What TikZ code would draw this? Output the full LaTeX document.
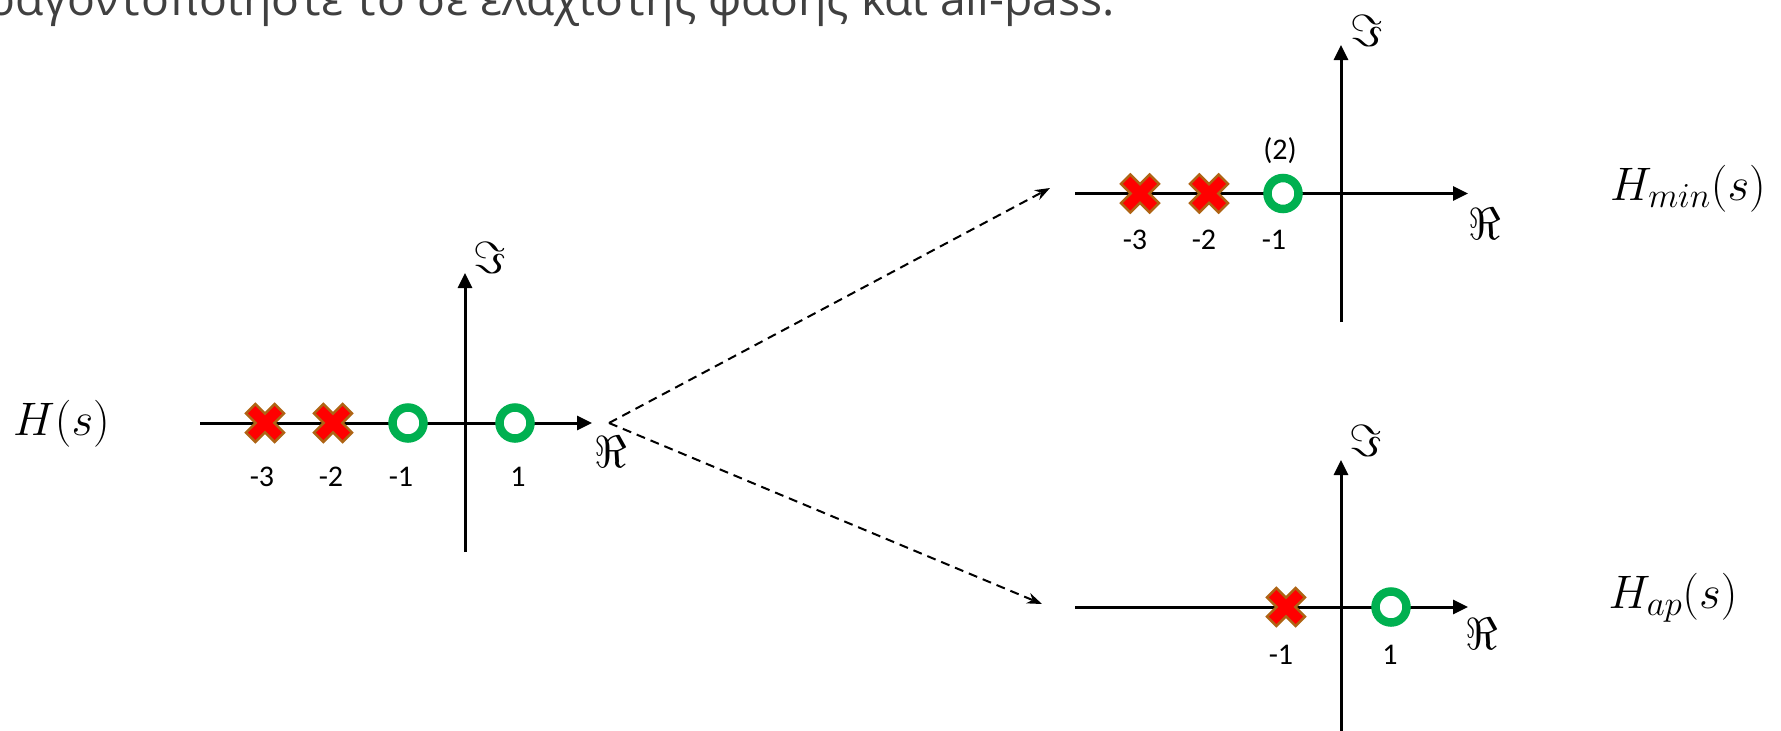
\RequirePackage{fix-cm}
\documentclass[tikz,border=0pt]{standalone}
\usepackage{graphicx}
\usepackage{fontspec}
\setmainfont{Carlito}
\newfontfamily\headfont{Open Sans}
\DeclareMathSizes{47}{47}{35}{28}
\usetikzlibrary{arrows.meta}
\definecolor{zerogreen}{RGB}{0,176,80}
\definecolor{polered}{RGB}{255,0,0}
\definecolor{polebrown}{RGB}{175,100,20}
\definecolor{headgray}{RGB}{64,64,64}
\tikzset{
  axisline/.style={line width=3pt,-{Triangle[length=15pt,width=14pt]}},
  zeromark/.style={circle,draw=zerogreen,fill=white,line width=8.5pt,minimum size=31pt,inner sep=0pt},
  ticklabel/.style={font=\fontsize{30}{32}\selectfont,text=black},
  mathlabel/.style={font=\fontsize{45}{50}\selectfont},
  hlabel/.style={font=\fontsize{47}{50}\selectfont,anchor=base},
  dasharrow/.style={line width=2pt,dash pattern=on 9pt off 6pt,-{Stealth[length=15pt,width=11pt]}},
  pole/.pic={
    \draw[fill=polered,draw=polebrown,line width=2.5pt,line join=miter,rotate=45]
      (6.6,20.2) -- (-6.6,20.2) -- (-6.6,6.6) -- (-20.2,6.6) -- (-20.2,-6.6) -- (-6.6,-6.6)
      -- (-6.6,-20.2) -- (6.6,-20.2) -- (6.6,-6.6) -- (20.2,-6.6) -- (20.2,6.6) -- (6.6,6.6) -- cycle;
  }
}
\begin{document}
\begin{tikzpicture}[x=1pt,y=-1pt]
\useasboundingbox (0,0) rectangle (1781,731);
\clip (0,0) rectangle (1781,731);

% heading (cut at the top and at the left, as in the reference)
\node[anchor=base east,inner sep=0pt,text=headgray] (heading) at (1115,15)
  {\resizebox{1127pt}{!}{\headfont\fontsize{40}{40}\selectfont\llap{πα}ραγοντοποιήστε το σε ελάχιστης φάσης και all-pass.}};

% ---------- left plane: H(s) ----------
\coordinate (Lre0) at (200,423);
\coordinate (Lre1) at (592,423);
\coordinate (Lim0) at (465,552);
\coordinate (Lim1) at (465,273);
\draw[axisline] (Lre0) -- (Lre1);
\draw[axisline] (Lim0) -- (Lim1);
\pic (LpA) at (265,423) {pole};
\pic (LpB) at (333,423) {pole};
\node[zeromark] (LzA) at (408,423) {};
\node[zeromark] (LzB) at (515,423) {};
\node[ticklabel] (Lt3) at (262,477) {-3};
\node[ticklabel] (Lt2) at (331,477) {-2};
\node[ticklabel] (Lt1) at (401,477) {-1};
\node[ticklabel] (Lt0) at (518,477) {1};
\node[mathlabel] (LIm) at (490,258) {$\Im$};
\node[mathlabel] (LRe) at (611,452) {$\Re$};
\node[hlabel] (Hs) at (61.5,435) {$H(s)$};

% ---------- upper right plane: H_min(s) ----------
\coordinate (Ure0) at (1075,193.5);
\coordinate (Ure1) at (1468,193.5);
\coordinate (Uim0) at (1341,322);
\coordinate (Uim1) at (1341,45);
\draw[axisline] (Ure0) -- (Ure1);
\draw[axisline] (Uim0) -- (Uim1);
\pic (UpA) at (1140,193.5) {pole};
\pic (UpB) at (1209,193.5) {pole};
\node[zeromark] (UzA) at (1283,193.5) {};
\node[ticklabel] (Ut3) at (1135,240) {-3};
\node[ticklabel] (Ut2) at (1204,240) {-2};
\node[ticklabel] (Ut1) at (1274,240) {-1};
\node[ticklabel] (Umult) at (1280,151) {(2)};
\node[mathlabel] (UIm) at (1367,31) {$\Im$};
\node[mathlabel] (URe) at (1485,224) {$\Re$};
\node[hlabel] (Hmin) at (1688,200) {$H_{min}(s)$};

% ---------- lower right plane: H_ap(s) ----------
\coordinate (Dre0) at (1075,607);
\coordinate (Dre1) at (1468,607);
\coordinate (Dim0) at (1341,745);
\coordinate (Dim1) at (1341,460);
\draw[axisline] (Dre0) -- (Dre1);
\draw[axisline] (Dim0) -- (Dim1);
\pic (DpA) at (1286,607) {pole};
\node[zeromark] (DzA) at (1391,607) {};
\node[ticklabel] (Dt1) at (1281,655) {-1};
\node[ticklabel] (Dt0) at (1390,655) {1};
\node[mathlabel] (DIm) at (1366,441) {$\Im$};
\node[mathlabel] (DRe) at (1482,634) {$\Re$};
\node[hlabel] (Hap) at (1673,608) {$H_{ap}(s)$};

% ---------- dashed arrows ----------
\coordinate (dstart) at (609,423);
\coordinate (dtop) at (1050,188);
\coordinate (dbot) at (1042,604);
\draw[dasharrow] (dstart) -- (dtop);
\draw[dasharrow] (dstart) -- (dbot);
\end{tikzpicture}
\end{document}
